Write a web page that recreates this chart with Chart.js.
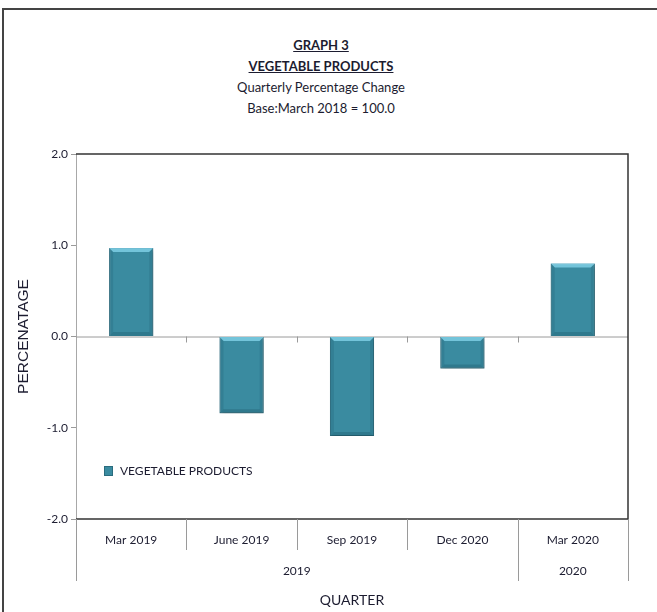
<!DOCTYPE html>
<html>
<head>
<meta charset="utf-8">
<script src="https://cdn.jsdelivr.net/npm/chart.js@4.4.1/dist/chart.umd.min.js"></script>
<style>
  html, body { margin: 0; padding: 0; background: #fff; overflow: hidden; }
  body { width: 657px; height: 612px; position: relative; font-family: "Lato", sans-serif; color: #1c1c30; }
  .frame { position: absolute; left: 2px; top: 8px; width: 720px; height: 720px; border: 2px solid #444; box-sizing: border-box; }
  #titles { position: absolute; left: 171px; width: 300px; top: 35px; text-align: center; font-size: 13px; line-height: 21px; }
  #titles .b { font-weight: bold; text-decoration: underline; }
  #legend { position: absolute; left: 104px; top: 463px; font-size: 12px; display: flex; align-items: center; }
  #legend .sw { width: 7px; height: 8px; background: #3a8ba0; border: 1px solid #2a6c7e; margin-right: 7px; }
  canvas { position: absolute; left: 0; top: 0; }
</style>
</head>
<body>
<div class="frame"></div>
<div id="titles">
  <div class="b">GRAPH 3</div>
  <div class="b">VEGETABLE PRODUCTS</div>
  <div>Quarterly Percentage Change</div>
  <div>Base:March 2018 = 100.0</div>
</div>
<canvas id="myChart" width="657" height="612"></canvas>
<div id="legend"><span class="sw"></span><span>VEGETABLE PRODUCTS</span></div>
<script>
// data
var quarters = ["Mar 2019", "June 2019", "Sep 2019", "Dec 2020", "Mar 2020"];
var years = ["2019", "2020"];
var yearOfQuarter = [0, 0, 0, 0, 1];
var vegChange = [0.97, -0.84, -1.09, -0.35, 0.80];
var yMin = -2, yMax = 2, yStep = 1;

var barColor = "#3a8ba0";
var txtColor = "#1c1c30";
var fontMain = "Lato, sans-serif";

// frame lines, zero line, multi-level category axis
var axisDecor = {
  id: "axisDecor",
  beforeDatasetsDraw(chart) {
    var ctx = chart.ctx, a = chart.chartArea;
    var x = chart.scales.x, y = chart.scales.y;
    var y0 = y.getPixelForValue(0);
    ctx.save();
    ctx.strokeStyle = "#9a9a9a";
    ctx.lineWidth = 1;
    ctx.beginPath();
    ctx.moveTo(a.left, y0 + 0.5);
    ctx.lineTo(a.right, y0 + 0.5);
    // small ticks between categories on the zero line
    for (var i = 1; i < quarters.length; i++) {
      var bx = Math.round((x.getPixelForValue(i - 1) + x.getPixelForValue(i)) / 2) + 0.5;
      ctx.moveTo(bx, y0);
      ctx.lineTo(bx, y0 + 6);
    }
    ctx.stroke();
    ctx.restore();
  },
  afterDraw(chart) {
    var ctx = chart.ctx, a = chart.chartArea;
    var x = chart.scales.x;
    var half = (x.getPixelForValue(1) - x.getPixelForValue(0)) / 2;
    ctx.save();
    // dark frame on top, right, bottom
    ctx.strokeStyle = "#333";
    ctx.lineWidth = 1.5;
    ctx.beginPath();
    ctx.moveTo(a.left, a.top);
    ctx.lineTo(a.right, a.top);
    ctx.lineTo(a.right, a.bottom);
    ctx.lineTo(a.left, a.bottom);
    ctx.stroke();
    // separators under the axis
    ctx.strokeStyle = "#9a9a9a";
    ctx.lineWidth = 1;
    ctx.beginPath();
    for (var i = 0; i <= quarters.length; i++) {
      var bx = Math.round(x.getPixelForValue(i) - half) + 0.5;
      var groupEdge = i === 0 || i === quarters.length || yearOfQuarter[i] !== yearOfQuarter[i - 1];
      ctx.moveTo(bx, a.bottom);
      ctx.lineTo(bx, a.bottom + (groupEdge ? 62 : 31));
    }
    ctx.stroke();
    // year group labels
    ctx.fillStyle = txtColor;
    ctx.font = "12px " + fontMain;
    ctx.textAlign = "center";
    ctx.textBaseline = "middle";
    years.forEach(function (yr, g) {
      var idx = [];
      yearOfQuarter.forEach(function (v, k) { if (v === g) idx.push(k); });
      var l = x.getPixelForValue(idx[0]) - half;
      var r = x.getPixelForValue(idx[idx.length - 1]) + half;
      ctx.fillText(yr, (l + r) / 2, a.bottom + 52);
    });
    ctx.restore();
  }
};

// bevel look on the bars
var barBevel = {
  id: "barBevel",
  beforeDatasetsDraw(chart) {
    var ctx = chart.ctx;
    ctx.save();
    ctx.shadowColor = "rgba(0,0,0,0.35)";
    ctx.shadowBlur = 4;
    ctx.shadowOffsetX = 1;
    ctx.shadowOffsetY = 2;
  },
  afterDatasetsDraw(chart) {
    var ctx = chart.ctx;
    ctx.restore();
    ctx.save();
    chart.getDatasetMeta(0).data.forEach(function (bar) {
      var l = bar.x - bar.width / 2, r = bar.x + bar.width / 2;
      var t = Math.min(bar.y, bar.base), b = Math.max(bar.y, bar.base);
      var e = 4;
      ctx.fillStyle = "rgba(130,210,232,0.8)";
      ctx.beginPath();
      ctx.moveTo(l, t); ctx.lineTo(r, t); ctx.lineTo(r - e, t + e); ctx.lineTo(l + e, t + e); ctx.closePath();
      ctx.fill();
      ctx.fillStyle = "rgba(35,100,118,0.45)";
      ctx.beginPath();
      ctx.moveTo(l, b); ctx.lineTo(r, b); ctx.lineTo(r - e, b - e); ctx.lineTo(l + e, b - e); ctx.closePath();
      ctx.fill();
      ctx.fillStyle = "rgba(40,105,125,0.35)";
      ctx.beginPath();
      ctx.moveTo(r, t); ctx.lineTo(r, b); ctx.lineTo(r - e, b - e); ctx.lineTo(r - e, t + e); ctx.closePath();
      ctx.fill();
      ctx.beginPath();
      ctx.moveTo(l, t); ctx.lineTo(l, b); ctx.lineTo(l + e, b - e); ctx.lineTo(l + e, t + e); ctx.closePath();
      ctx.fill();
    });
    ctx.restore();
  }
};

var ctx = document.getElementById("myChart").getContext("2d");

new Chart(ctx, {
  type: "bar",
  data: {
    labels: quarters,
    datasets: [{
      label: "VEGETABLE PRODUCTS",
      data: vegChange,
      backgroundColor: barColor,
      borderColor: "#2e7184",
      borderWidth: 1,
      barPercentage: 0.8,
      categoryPercentage: 0.5
    }]
  },
  options: {
    responsive: false,
    animation: false,
    layout: { padding: { top: 154, right: 29, left: 0, bottom: 0 } },
    plugins: {
      legend: { display: false },
      tooltip: { enabled: false }
    },
    scales: {
      x: {
        grid: { display: false },
        border: { display: false },
        ticks: { color: txtColor, font: { family: fontMain, size: 12 }, padding: 6, maxRotation: 0 },
        title: { display: true, text: "QUARTER", color: txtColor, font: { family: fontMain, size: 14 }, padding: { top: 0, bottom: 3 } },
        afterFit: function (s) { s.height = 93; }
      },
      y: {
        min: yMin,
        max: yMax,
        ticks: {
          stepSize: yStep,
          color: txtColor,
          font: { family: fontMain, size: 12 },
          padding: 3,
          callback: function (v) { return v.toFixed(1); }
        },
        grid: { drawOnChartArea: false, color: "#9a9a9a", tickLength: 5 },
        border: { display: true, color: "#a8a8a8" },
        title: { display: true, text: "PERCENATAGE", color: txtColor, font: { family: "'Liberation Sans', Arial, sans-serif", size: 15.5 }, padding: { top: 14, bottom: 0 } },
        afterFit: function (s) { s.width = 76; }
      }
    }
  },
  plugins: [axisDecor, barBevel]
});
</script>
</body>
</html>
